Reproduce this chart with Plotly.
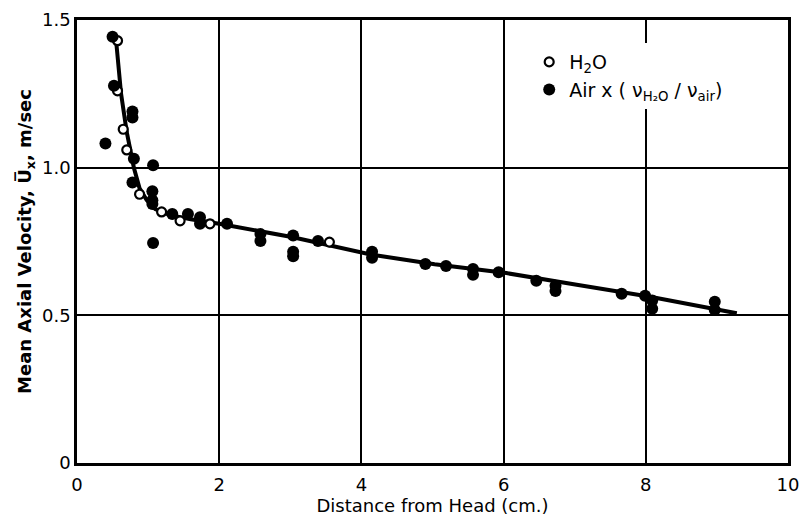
import plotly.graph_objects as go

# H2O (open circles)
h2o_x = [0.57, 0.57, 0.65, 0.70, 0.88, 1.19, 1.45, 1.87, 3.55]
h2o_y = [1.43, 1.26, 1.13, 1.06, 0.91, 0.85, 0.82, 0.81, 0.748]

# Air (filled circles)
air_x = [0.50, 0.52, 0.40, 0.78, 0.78, 0.80, 0.78, 1.07, 1.06, 1.06, 1.06, 1.07,
         1.34, 1.56, 1.73, 1.73, 2.11, 2.58, 2.58, 3.04, 3.04, 3.04, 3.39,
         4.15, 4.15, 4.90, 5.19, 5.57, 5.57, 5.93, 6.46, 6.73, 6.73, 7.66,
         7.99, 8.09, 8.09, 8.97, 8.97]
air_y = [1.443, 1.277, 1.082, 1.19, 1.17, 1.03, 0.95, 1.008, 0.92, 0.89, 0.877, 0.745,
         0.843, 0.843, 0.832, 0.81, 0.81, 0.775, 0.752, 0.77, 0.715, 0.70, 0.752,
         0.715, 0.695, 0.674, 0.667, 0.657, 0.637, 0.646, 0.617, 0.60, 0.582, 0.573,
         0.566, 0.55, 0.522, 0.546, 0.518]

# fitted curve
fit_x = [0.55, 0.62, 0.70, 0.80, 0.88, 0.98, 1.10, 1.30, 1.60, 2.00, 3.02, 4.13, 5.03, 6.04, 7.05, 8.06, 9.28]
fit_y = [1.43, 1.25, 1.12, 1.00, 0.93, 0.89, 0.86, 0.84, 0.825, 0.81, 0.765, 0.706, 0.673, 0.643, 0.603, 0.563, 0.507]

x_ticks = [0, 2, 4, 6, 8, 10]
y_ticks = [0, 0.5, 1.0, 1.5]
y_tick_text = ["0", "0.5", "1.0", "1.5"]

fig = go.Figure()
fig.add_trace(go.Scatter(x=fit_x, y=fit_y, mode="lines", line=dict(color="black", width=4),
                         showlegend=False, hoverinfo="skip"))
fig.add_trace(go.Scatter(x=h2o_x, y=h2o_y, mode="markers", name="H<sub>2</sub>O",
                         marker=dict(symbol="circle", size=9, color="white",
                                     line=dict(color="black", width=2.2))))
fig.add_trace(go.Scatter(x=air_x, y=air_y, mode="markers",
                         name="Air x ( ν<sub>H₂O</sub> / ν<sub>air</sub>)",
                         marker=dict(symbol="circle", size=12, color="black",
                                     line=dict(color="black", width=0))))

font_family = "DejaVu Sans"
fig.update_layout(
    width=799, height=516,
    margin=dict(l=77, r=11, t=20, b=53),
    paper_bgcolor="white", plot_bgcolor="white",
    font=dict(family=font_family, color="black"),
    legend=dict(x=0.636, y=0.948, xanchor="left", yanchor="top",
                bgcolor="white", font=dict(size=19, color="black"),
                itemsizing="trace", tracegroupgap=0),
    xaxis=dict(range=[0, 10], tickvals=x_ticks, ticktext=[str(t) for t in x_ticks],
               showgrid=True, gridcolor="black", gridwidth=1.6,
               showline=True, linecolor="black", linewidth=2.5, mirror=True,
               zeroline=False, ticks="", tickfont=dict(size=18), ticklabeloverflow="allow",
               ticklabelstandoff=4, automargin=False,
               title=dict(text="Distance from Head (cm.)", font=dict(size=18), standoff=2)),
    yaxis=dict(range=[0, 1.5], tickvals=y_ticks, ticktext=y_tick_text,
               showgrid=True, gridcolor="black", gridwidth=1.6,
               showline=True, linecolor="black", linewidth=2.5, mirror=True,
               zeroline=False, ticks="", tickfont=dict(size=18), ticklabeloverflow="allow",
               automargin=False,
               title=dict(text="<b>Mean Axial Velocity, U\u0305<sub>x</sub>, m/sec</b>",
                          font=dict(size=18), standoff=6)),
)

fig.write_html("out.html")
